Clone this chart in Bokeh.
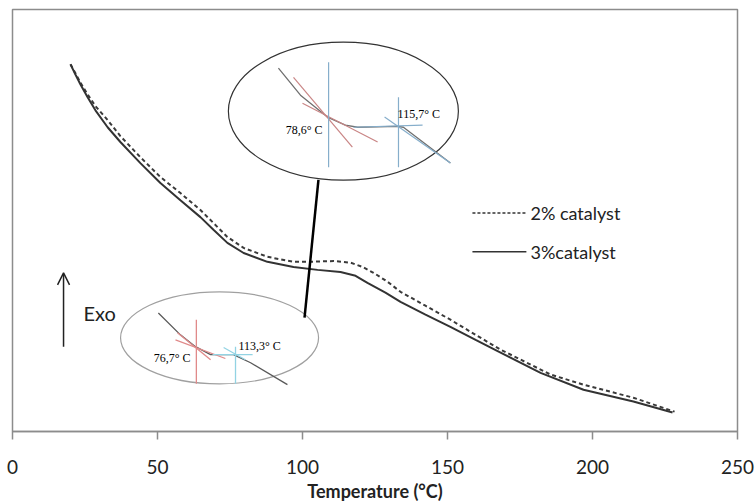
from bokeh.plotting import figure
from bokeh.models import Range1d, FixedTicker, Arrow, OpenHead
from bokeh.core.properties import value
from bokeh.embed import file_html
from bokeh.resources import INLINE

# DSC heat-flow traces (arbitrary units, exo up) vs temperature in °C
temp_2pct = [20.0, 21.7, 23.4, 25.9, 28.6, 32.8, 37.2, 44.1, 51.0, 57.9, 64.8, 69.3, 74.1,
             79.7, 87.9, 96.9, 101.7, 110.7, 116.6, 120.7, 124.5, 129.3, 133.8, 142.4,
             151.0, 159.7, 168.3, 185.5, 196.9, 214.1, 228.3]
flow_2pct = [87.0, 84.9, 82.7, 79.9, 77.1, 73.8, 70.0, 65.0, 60.3, 56.5, 52.5, 49.4, 46.1,
             43.5, 41.4, 40.2, 40.2, 40.4, 40.0, 39.0, 37.6, 35.5, 33.1, 29.8,
             26.5, 22.9, 19.4, 13.5, 11.1, 8.0, 4.7]

temp_3pct = [20.0, 21.7, 23.4, 25.9, 28.6, 32.8, 37.2, 44.1, 51.0, 57.9, 64.8, 69.3, 74.1,
             79.7, 87.9, 96.9, 105.2, 113.1, 118.3, 122.4, 128.6, 133.8, 142.4, 151.0,
             159.7, 168.3, 182.1, 196.9, 214.1, 227.6]
flow_3pct = [87.0, 84.6, 82.3, 79.2, 76.1, 72.1, 68.6, 63.6, 58.9, 54.8, 50.8, 47.8, 44.7,
             42.3, 40.2, 39.0, 38.3, 37.8, 36.9, 35.2, 32.9, 30.7, 27.7, 24.8,
             21.7, 18.7, 13.9, 9.9, 7.1, 4.5]

x_ticks = [0, 50, 100, 150, 200, 250]
series_names = ["2% catalyst", "3%catalyst"]

# onset / endset temperatures from the tangent constructions
onset_2pct, endset_2pct = "78,6° C", "115,7° C"
onset_3pct, endset_3pct = "76,7° C", "113,3° C"

p = figure(width=756, height=504, output_backend="svg", toolbar_location=None,
           x_range=Range1d(0, 250), y_range=Range1d(0, 100),
           y_axis_location=None,
           min_border_left=12, min_border_right=19, min_border_top=9, min_border_bottom=72)
p.background_fill_color = "white"
p.border_fill_color = "white"
p.grid.visible = False
p.outline_line_color = "#8c8c8c"
p.outline_line_width = 1.5

ax = p.xaxis[0]
ax.ticker = FixedTicker(ticks=x_ticks)
ax.minor_tick_line_color = None
ax.major_tick_in = 0
ax.major_tick_out = 8
ax.major_tick_line_color = "#8c8c8c"
ax.major_tick_line_width = 1.5
ax.axis_line_color = "#8c8c8c"
ax.axis_line_width = 1.5
ax.major_label_text_font = "Lato"
ax.major_label_text_font_size = "19px"
ax.major_label_text_color = "#222222"
ax.major_label_standoff = 20
ax.axis_label = "Temperature (°C)"
ax.axis_label_text_font = "Lato"
ax.axis_label_text_font_size = "18px"
ax.axis_label_text_font_style = "bold"
ax.axis_label_text_color = "#222222"
ax.axis_label_standoff = 3

# main traces
p.line(temp_2pct, flow_2pct, line_color="#3a3a3a", line_width=2, line_dash="4 3")
p.line(temp_3pct, flow_3pct, line_color="#333333", line_width=2)

# legend drawn by hand
p.segment(x0=[158.6], y0=[51.8], x1=[177.2], y1=[51.8], line_color="#333333",
          line_width=1.5, line_dash="3 2")
p.segment(x0=[158.6], y0=[42.6], x1=[177.2], y1=[42.6], line_color="#333333", line_width=1.5)
p.text(x=[178.6, 178.6], y=[51.8, 42.6], text=series_names, text_font=value("Lato"),
       text_font_size="18px", text_color="#222222", text_baseline="middle", text_align="left")

# exotherm direction
p.add_layout(Arrow(end=OpenHead(size=12, line_width=1.5, line_color="#222222"),
                   x_start=17.6, y_start=20.1, x_end=17.6, y_end=37.6,
                   line_width=1.5, line_color="#222222"))
p.text(x=[24.5], y=[28.1], text=["Exo"], text_font=value("Lato"), text_font_size="20px",
       text_color="#222222", text_baseline="middle", text_align="left")

# magnified insets
p.ellipse(x=[114.1], y=[75.9], width=230, height=138, width_units="screen",
          height_units="screen", fill_color="white", line_color="#333333", line_width=1.2)
p.ellipse(x=[71.4], y=[22.2], width=198, height=92, width_units="screen",
          height_units="screen", fill_color="white", line_color="#a0a0a0", line_width=1.2)
p.line([105.5, 100.7], [59.6, 27.0], line_color="black", line_width=2.5)

# inset for 2% catalyst
red, blue = "#c98585", "#86aecb"
p.line([91.7, 99.3, 108.6, 114.8, 119.0, 132.8, 134.8, 151.0],
       [86.1, 79.7, 74.5, 72.6, 72.1, 72.3, 72.1, 63.6], line_color="#707070", line_width=1.3)
p.segment(x0=[96.9, 100.0], y0=[83.9, 77.8], x1=[117.2, 125.9], y1=[67.4, 68.6],
          line_color=red, line_width=1.2)
p.segment(x0=[109.0, 133.1, 117.6, 128.3], y0=[87.5, 79.2, 72.1, 74.5],
          x1=[109.0, 133.1, 141.4, 151.0], y1=[62.6, 62.6, 72.6, 63.6],
          line_color=blue, line_width=1.2)
p.text(x=[106.9], y=[71.4], text=[onset_2pct], text_font=value("Liberation Serif"),
       text_font_size="12px", text_color="black", text_baseline="middle", text_align="right")
p.text(x=[132.8], y=[75.2], text=[endset_2pct], text_font=value("Liberation Serif"),
       text_font_size="12px", text_color="black", text_baseline="middle", text_align="left")

# inset for 3% catalyst
red2, cyan = "#e08a8a", "#92d3e3"
p.line([50.3, 57.9, 63.1, 68.3, 76.2, 82.1, 94.8],
       [28.1, 22.9, 20.1, 18.2, 18.2, 16.3, 11.1], line_color="#5a5a5a", line_width=1.3)
p.segment(x0=[63.4, 56.9, 56.2], y0=[26.5, 23.4, 21.7], x1=[63.4, 68.3, 73.4],
          y1=[11.3, 17.0, 17.3], line_color=red2, line_width=1.3)
p.segment(x0=[76.9, 69.0, 72.8], y0=[20.1, 18.2, 19.9], x1=[76.9, 82.8, 80.3],
          y1=[11.3, 18.2, 17.0], line_color=cyan, line_width=1.3)
p.text(x=[61.4], y=[17.5], text=[onset_3pct], text_font=value("Liberation Serif"),
       text_font_size="12px", text_color="black", text_baseline="middle", text_align="right")
p.text(x=[77.9], y=[20.3], text=[endset_3pct], text_font=value("Liberation Serif"),
       text_font_size="12px", text_color="black", text_baseline="middle", text_align="left")

open("out.html", "w").write(file_html(p, INLINE))
